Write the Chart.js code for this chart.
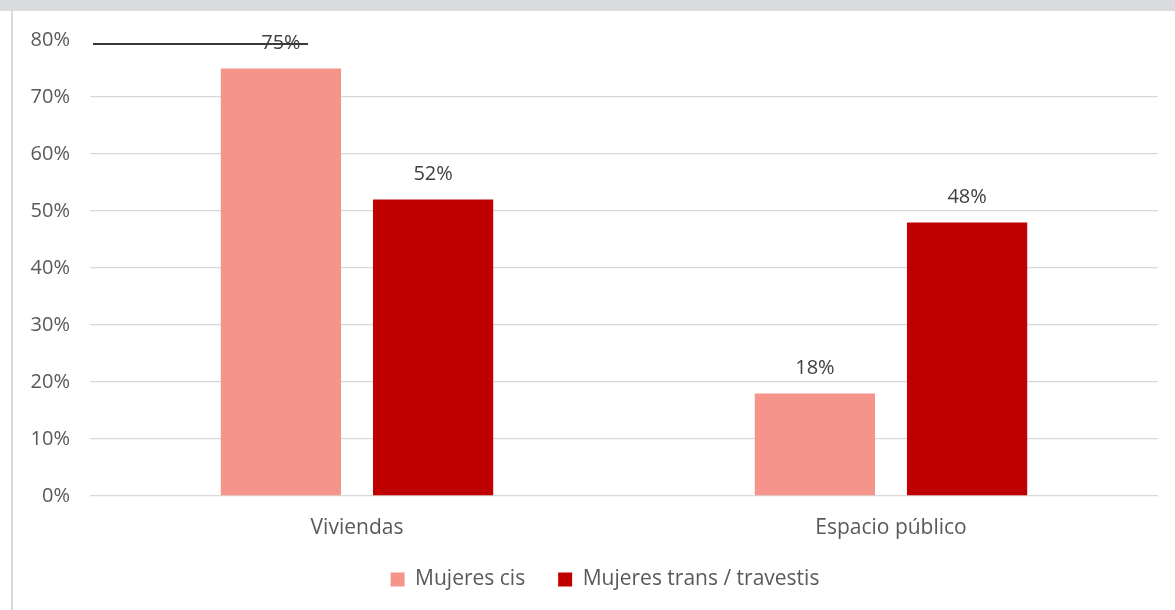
<!DOCTYPE html>
<html><head><meta charset="utf-8">
<script src="https://cdn.jsdelivr.net/npm/chart.js@4/dist/chart.umd.min.js"></script>
<style>html,body{margin:0;padding:0;background:#fff}#wrap{width:1175px;height:610px;position:relative}</style>
</head><body><div id="wrap"><canvas id="c" width="1175" height="610"></canvas></div>
<script>
const categories = ["Viviendas", "Espacio público"];
const seriesNames = ["Mujeres cis", "Mujeres trans / travestis"];
const mujeresCis = [75, 18];
const mujeresTrans = [52, 48];
const yTicks = [0, 10, 20, 30, 40, 50, 60, 70, 80];
const colors = ["#F4948A", "#C00000"];

const FONT = 'Open Sans';

const frame = {
  id: 'frame',
  afterLayout(chart) {
    if (chart.legend) { chart.legend.left += 26; chart.legend.right += 26; }
  },
  beforeDraw(chart) {
    const ctx = chart.ctx;
    ctx.save();
    ctx.fillStyle = '#ffffff';
    ctx.fillRect(0, 0, chart.width, chart.height);
    ctx.fillStyle = '#dadbdd';
    ctx.fillRect(0, 0, chart.width, 11);
    ctx.fillStyle = '#d9d9d9';
    ctx.fillRect(11, 11, 2, chart.height - 11);
    ctx.restore();
  },
  afterDatasetsDraw(chart) {
    const ctx = chart.ctx;
    ctx.save();
    ctx.font = '20px "' + FONT + '"';
    ctx.fillStyle = '#404040';
    ctx.textAlign = 'center';
    ctx.textBaseline = 'middle';
    chart.data.datasets.forEach((ds, i) => {
      chart.getDatasetMeta(i).data.forEach((bar, j) => {
        ctx.fillText(ds.data[j] + '%', bar.x, bar.y - 25);
      });
    });
    // stray dark line near the top gridline
    const y = chart.scales.y.getPixelForValue(80) + 4;
    const b = chart.getDatasetMeta(0).data[0];
    ctx.strokeStyle = '#3a3a3a';
    ctx.lineWidth = 2;
    ctx.beginPath();
    ctx.moveTo(chart.chartArea.left + 3, y);
    ctx.lineTo(b.x + b.width / 2 - 33, y);
    ctx.stroke();
    ctx.restore();
  }
};

const chart = new Chart(document.getElementById('c'), {
  type: 'bar',
  data: {
    labels: categories,
    datasets: [
      { label: seriesNames[0], data: mujeresCis, backgroundColor: colors[0] },
      { label: seriesNames[1], data: mujeresTrans, backgroundColor: colors[1] }
    ]
  },
  options: {
    responsive: false,
    animation: false,
    devicePixelRatio: 1,
    datasets: { bar: { barPercentage: 0.79, categoryPercentage: 0.57 } },
    layout: { padding: { top: 40, right: 17, bottom: 0, left: 0 } },
    scales: {
      x: {
        grid: { display: false, drawTicks: false },
        border: { display: false },
        ticks: { color: '#595959', font: { family: FONT, size: 21 }, padding: 19 },
        afterFit(s) { s.height = 40; }
      },
      y: {
        min: 0, max: 80,
        afterBuildTicks(s) { s.ticks = yTicks.map(v => ({ value: v })); },
        grid: {
          drawTicks: false,
          lineWidth: 1.3,
          color: c => (c.tick && c.tick.value === 80) ? 'rgba(0,0,0,0)' : '#d9d9d9'
        },
        border: { display: false },
        ticks: { color: '#595959', font: { family: FONT, size: 20 }, padding: 20, callback: v => v + '%' },
        afterFit(s) { s.width = 90; }
      }
    },
    plugins: {
      legend: {
        position: 'bottom',
        labels: {
          boxWidth: 14, boxHeight: 14, padding: 33,
          color: '#595959', font: { family: FONT, size: 21 }
        }
      },
      tooltip: { enabled: false }
    }
  },
  plugins: [frame]
});
const origFit = chart.legend.fit.bind(chart.legend);
chart.legend.fit = function () { origFit(); this.height = 74; };
chart.scales.x._computeLabelArea = function () { return undefined; };
chart.update();
</script>
</body></html>
